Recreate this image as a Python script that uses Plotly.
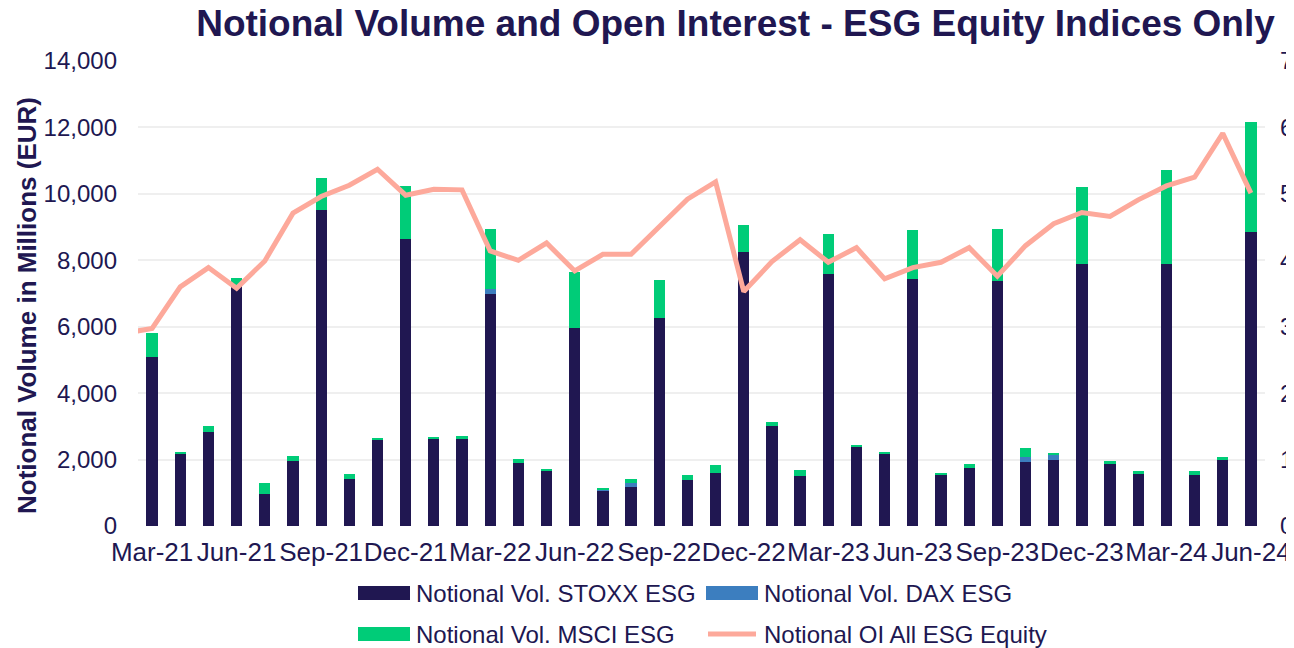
import pandas as pd
import plotly.graph_objects as go

# ---------------- data ----------------
months_all = [d.strftime("%b-%y") for d in pd.date_range("2021-02-01", "2024-06-01", freq="MS")]
months = months_all[1:]  # Mar-21 .. Jun-24 (bars)
tick_labels = months[::3]

stoxx = [5080, 2180, 2840, 7270, 970, 1970, 9510, 1430, 2610, 8630,
         2610, 2610, 7000, 1910, 1670, 5960, 1070, 1180, 6270, 1390,
         1610, 8240, 3020, 1510, 7600, 2390, 2160, 7430, 1560, 1740,
         7380, 1940, 1990, 7880, 1860, 1580, 7890, 1530, 2010, 8860]
dax = [0, 0, 0, 0, 0, 0, 0, 0, 0, 0,
       0, 0, 130, 0, 0, 0, 20, 120, 0, 0,
       0, 0, 0, 0, 0, 0, 0, 0, 0, 0,
       0, 150, 150, 0, 0, 0, 0, 0, 0, 0]
msci = [730, 50, 170, 190, 330, 140, 970, 130, 40, 1600,
        70, 110, 1810, 110, 50, 1690, 40, 120, 1130, 150,
        240, 830, 110, 190, 1180, 50, 70, 1470, 40, 130,
        1550, 260, 50, 2340, 100, 80, 2820, 130, 60, 3310]
# open interest (Feb-21 .. Jun-24), right axis
oi = [2900, 2975, 3600, 3890, 3580, 3990, 4710, 4960, 5130, 5370, 4980,
      5070, 5060, 4140, 4000, 4260, 3840, 4090, 4090, 4500, 4920,
      5180, 3530, 3980, 4310, 3970, 4190, 3720, 3890, 3970, 4190,
      3760, 4220, 4550, 4720, 4660, 4910, 5120, 5250, 5910, 5010]

names = ["Notional Vol. STOXX ESG", "Notional Vol. DAX ESG",
         "Notional Vol. MSCI ESG", "Notional OI All ESG Equity"]
title = "Notional Volume and Open Interest - ESG Equity Indices Only"
ytitle = "Notional Volume in Millions (EUR)"

# ---------------- style ----------------
NAVY = "#201751"
BLUE = "#3C7EBF"
GREEN = "#00CC78"
SALMON = "#FDA99B"
GRID = "#EFEFEF"
FONT = "Liberation Sans, Arial, sans-serif"

W, H = 1294, 648
OFF = 8  # page body margin
# plot area in screen pixels
L, R, T, B = 138, 1265, 61, 526


def px(x):
    return (x - L) / (R - L)


def py(y):
    return (B - y) / (B - T)


fig = go.Figure()
fig.add_trace(go.Bar(x=months, y=stoxx, name=names[0], marker=dict(color=NAVY, line=dict(width=0))))
fig.add_trace(go.Bar(x=months, y=dax, name=names[1], marker=dict(color=BLUE, line=dict(width=0))))
fig.add_trace(go.Bar(x=months, y=msci, name=names[2], marker=dict(color=GREEN, line=dict(width=0))))
fig.add_trace(go.Scatter(x=months_all, y=oi, name=names[3], mode="lines",
                         line=dict(color=SALMON, width=5), yaxis="y2"))

fig.update_layout(
    template="none",
    width=W, height=H,
    margin=dict(l=L - OFF, r=W - (R - OFF), t=T - OFF, b=H - (B - OFF), pad=0, autoexpand=False),
    paper_bgcolor="white", plot_bgcolor="white",
    barmode="stack", bargap=0.6,
    showlegend=False,
    font=dict(family=FONT, color=NAVY),
    title=dict(text="<b>" + title + "</b>", font=dict(size=37, color=NAVY, family=FONT),
               xref="container", x=(735.5 - OFF) / W, xanchor="center",
               yref="container", y=1 - 15 / H, yanchor="middle", automargin=False),
    xaxis=dict(type="category", categoryorder="array", categoryarray=months_all,
               range=[0.5, len(months_all) - 0.5], automargin=False,
               tickvals=tick_labels, ticktext=tick_labels, tickangle=0,
               tickfont=dict(size=26, color=NAVY), ticks="", showgrid=False,
               showline=False, zeroline=False, ticklabelstandoff=8),
    yaxis=dict(range=[0, 14000], dtick=2000, tickformat=",d", automargin=False,
               tickfont=dict(size=24, color=NAVY), gridcolor=GRID, gridwidth=2,
               zeroline=False, showline=False, ticks="", ticklabelstandoff=20),
    yaxis2=dict(range=[0, 7000], dtick=1000, tickformat=",d", overlaying="y", side="right",
                automargin=False,
                tickfont=dict(size=24, color=NAVY), showgrid=False, zeroline=False,
                showline=False, ticks="", ticklabelstandoff=14),
)

# y-axis title
fig.add_annotation(text="<b>" + ytitle + "</b>", textangle=-90, xref="paper", yref="paper",
                   x=px(27), y=py(306), xanchor="center", yanchor="middle", showarrow=False,
                   font=dict(size=26, color=NAVY, family=FONT))

# custom legend
legend_items = [
    (names[0], "bar", NAVY, 358, 593),
    (names[1], "bar", BLUE, 706, 593),
    (names[2], "bar", GREEN, 358, 634),
    (names[3], "line", SALMON, 706, 634),
]
for name, kind, color, x0, yc in legend_items:
    if kind == "bar":
        fig.add_shape(type="rect", xref="paper", yref="paper",
                      x0=px(x0), x1=px(x0 + 52), y0=py(yc - 7), y1=py(yc + 7),
                      fillcolor=color, line=dict(width=0))
    else:
        fig.add_shape(type="line", xref="paper", yref="paper",
                      x0=px(x0 + 2), x1=px(x0 + 50), y0=py(yc), y1=py(yc),
                      line=dict(color=color, width=5))
    fig.add_annotation(text=name, xref="paper", yref="paper", x=px(x0 + 56), y=py(yc),
                       xanchor="left", yanchor="middle", showarrow=False,
                       font=dict(size=24, color=NAVY, family=FONT))

fig.write_html("out.html")
